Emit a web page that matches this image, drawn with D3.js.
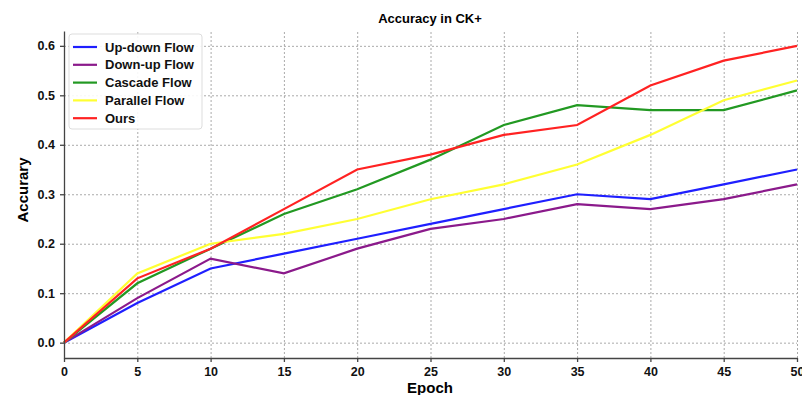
<!DOCTYPE html>
<html>
<head>
<meta charset="utf-8">
<script src="https://cdn.jsdelivr.net/npm/d3@7"></script>
<style>
  body { margin: 0; background: #fff; }
  svg { font-family: "Liberation Sans", Arial, sans-serif; font-weight: bold; }
  .grid line { stroke: #aaa; stroke-dasharray: 2,2; stroke-width: 1; }
  .grid .domain { display: none; }
  .axis text { font-size: 12.5px; font-weight: bold; fill: #111; }
  .axis path, .axis line { stroke: #444; stroke-width: 1.3; }
</style>
</head>
<body>
<div id="chart"></div>
<script>
// chart size
var width = 802;
var height = 395;

// data
var epochs = [0, 5, 10, 15, 20, 25, 30, 35, 40, 45, 50];
var upDown   = [0, 0.08, 0.15, 0.18, 0.21, 0.24, 0.27, 0.30, 0.29, 0.32, 0.35];
var downUp   = [0, 0.09, 0.17, 0.14, 0.19, 0.23, 0.25, 0.28, 0.27, 0.29, 0.32];
var cascade  = [0, 0.12, 0.19, 0.26, 0.31, 0.37, 0.44, 0.48, 0.47, 0.47, 0.51];
var parallel = [0, 0.14, 0.20, 0.22, 0.25, 0.29, 0.32, 0.36, 0.42, 0.49, 0.53];
var ours     = [0, 0.13, 0.19, 0.27, 0.35, 0.38, 0.42, 0.44, 0.52, 0.57, 0.60];
var seriesNames = ["Up-down Flow", "Down-up Flow", "Cascade Flow", "Parallel Flow", "Ours"];
var seriesColors = ["#1f1fff", "#8b1a8b", "#229922", "#ffff33", "#ff2222"];
var yTicks = [0.0, 0.1, 0.2, 0.3, 0.4, 0.5, 0.6];
var xTicks = [0, 5, 10, 15, 20, 25, 30, 35, 40, 45, 50];

var series = [upDown, downUp, cascade, parallel, ours];

var margin = {top: 31, right: 5, bottom: 37, left: 64};

var svg = d3.select("#chart").append("svg")
    .attr("width", width)
    .attr("height", height);

var x = d3.scaleLinear()
    .domain([0, 50])
    .range([margin.left, 797]);

var y = d3.scaleLinear()
    .domain([-0.031, 0.63])
    .range([height - margin.bottom, margin.top]);

// dotted grid
svg.append("g")
    .attr("class", "grid")
    .attr("transform", "translate(0," + (height - margin.bottom) + ")")
    .call(d3.axisBottom(x).tickValues(xTicks).tickSize(-(height - margin.bottom - margin.top)).tickFormat(""));

svg.append("g")
    .attr("class", "grid")
    .attr("transform", "translate(" + margin.left + ",0)")
    .call(d3.axisLeft(y).tickValues(yTicks).tickSize(-(797 - margin.left)).tickFormat(""));

// lines
var line = d3.line()
    .x(function(d, i) { return x(epochs[i]); })
    .y(function(d) { return y(d); });

svg.append("g")
    .selectAll("path")
    .data(series)
    .enter()
    .append("path")
    .attr("fill", "none")
    .attr("stroke", function(d, i) { return seriesColors[i]; })
    .attr("stroke-width", 2.2)
    .attr("d", line);

// axes (left and bottom spines only)
svg.append("g")
    .attr("class", "axis")
    .attr("transform", "translate(0," + (height - margin.bottom) + ")")
    .call(d3.axisBottom(x).tickValues(xTicks).tickSize(4).tickSizeOuter(0).tickPadding(5));

svg.append("g")
    .attr("class", "axis")
    .attr("transform", "translate(" + margin.left + ",0)")
    .call(d3.axisLeft(y).tickValues(yTicks).tickSize(4).tickSizeOuter(0).tickPadding(5)
        .tickFormat(d3.format(".1f")));

// title and axis labels
svg.append("text")
    .attr("x", 430)
    .attr("y", 23)
    .attr("text-anchor", "middle")
    .attr("font-size", "13px")
    .text("Accuracy in CK+");

svg.append("text")
    .attr("x", 430)
    .attr("y", 393)
    .attr("text-anchor", "middle")
    .attr("font-size", "15px")
    .text("Epoch");

svg.append("text")
    .attr("transform", "translate(28,190) rotate(-90)")
    .attr("text-anchor", "middle")
    .attr("font-size", "15px")
    .text("Accurary");

// legend
var legend = svg.append("g")
    .attr("transform", "translate(69,34)");

legend.append("rect")
    .attr("width", 133)
    .attr("height", 95)
    .attr("rx", 3)
    .attr("fill", "#fff")
    .attr("fill-opacity", 0.9)
    .attr("stroke", "#ddd");

var items = legend.selectAll("g.item")
    .data(seriesNames)
    .enter()
    .append("g")
    .attr("class", "item")
    .attr("transform", function(d, i) { return "translate(0," + (13 + i * 17.8) + ")"; });

items.append("line")
    .attr("x1", 4)
    .attr("x2", 28)
    .attr("stroke", function(d, i) { return seriesColors[i]; })
    .attr("stroke-width", 2.2);

items.append("text")
    .attr("x", 36)
    .attr("y", 4.5)
    .attr("font-size", "13px")
    .attr("fill", "#111")
    .text(function(d) { return d; });
</script>
</body>
</html>
